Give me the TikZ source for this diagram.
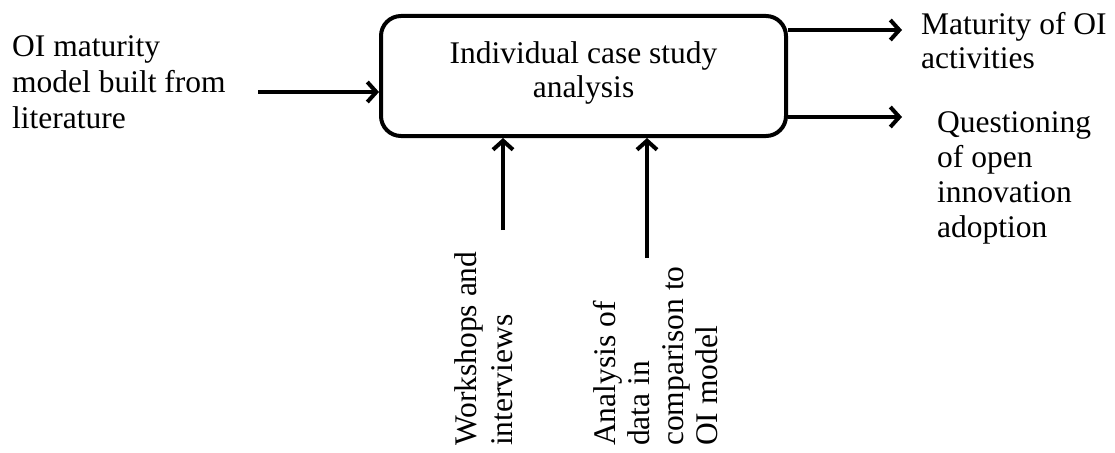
\documentclass[tikz,border=0pt]{standalone}
\usepackage{fontspec}
\setmainfont{Liberation Serif}
\usetikzlibrary{arrows.meta}
\begin{document}
\begin{tikzpicture}[x=1pt,y=-1pt,
  every node/.style={font=\fontsize{31.5}{35}\selectfont, inner sep=0pt},
  procbox/.style={draw, line width=4pt, rounded corners=20pt,
    minimum width=405pt, minimum height=120pt, align=center, text depth=13pt},
  label/.style={align=left, anchor=base west},
  vlabel/.style={align=left, anchor=base west, rotate=90},
  flow/.style={line width=4pt, -{Straight Barb[length=9pt,width=20pt,line width=4pt]}}]
\useasboundingbox (0,0) rectangle (1115,452);

% central process
\node[procbox] (box) at (583.5,76) {Individual case study\\[-1pt]analysis};

% labels (anchored on the baseline of their last line)
\node[label] (input) at (12,128) {OI maturity\\[1pt]model built from\\[1pt]literature};
\node[label] (out1) at (921,68) {Maturity of OI\\[-2pt]activities};
\node[label] (out2) at (937,237) {Questioning\\of open\\innovation\\adoption};
\node[vlabel] (ctl1) at (512,446) {Workshops and\\[1pt]interviews};
\node[vlabel] (ctl2) at (717,446) {Analysis of\\[-1pt]data in\\[-1pt]comparison to\\[-1pt]OI model};

% free ends of the connectors
\coordinate (inTail) at (258,92);
\coordinate (out1Tip) at (902,30);
\coordinate (out2Tip) at (902,117);
\coordinate (ctl1Tail) at (503,230);
\coordinate (ctl2Tail) at (647,258);

% connectors
\draw[flow] (inTail) -- (inTail -| box.west);
\draw[flow] (out1Tip -| box.east) -- (out1Tip);
\draw[flow] (out2Tip -| box.east) -- (out2Tip);
\draw[flow] (ctl1Tail) -- (ctl1Tail |- box.south);
\draw[flow] (ctl2Tail) -- (ctl2Tail |- box.south);
\end{tikzpicture}
\end{document}
